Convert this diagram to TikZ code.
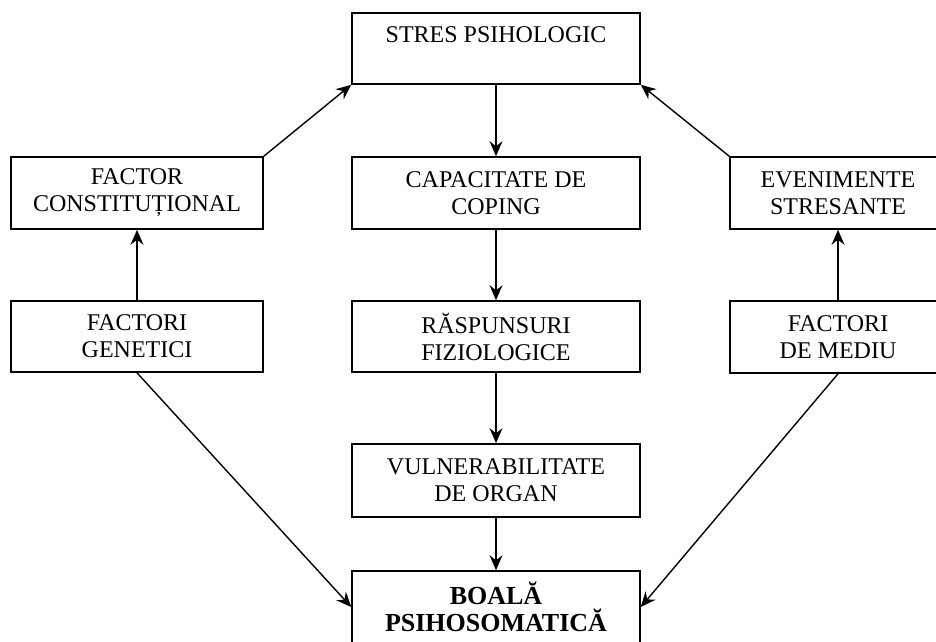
\documentclass[tikz,border=0pt]{standalone}
\usepackage{fontspec}
\setmainfont{Liberation Serif}
\usetikzlibrary{arrows.meta}
\begin{document}
\begin{tikzpicture}[x=1pt,y=-1pt,
  box/.style={draw, line width=1.6pt, align=center, inner sep=0pt,
    font=\fontsize{24}{27}\selectfont},
  wide/.style={box, minimum width=288pt, minimum height=72pt},
  side/.style={box, minimum width=252pt, minimum height=72pt},
  sider/.style={box, minimum width=216pt, minimum height=72pt},
  conn/.style={line width=1.4pt, -{Stealth[length=15pt,width=13pt,inset=5pt]}}]
\useasboundingbox (0,0) rectangle (936,641);
% centre column
\node[wide, minimum height=71pt] (stres) at (496,48.5) {STRES PSIHOLOGIC\\\phantom{X}};
\node[wide] (cap) at (496,193) {CAPACITATE DE\\COPING};
\node[wide, minimum height=71pt] (rasp) at (496,336.5) {RĂSPUNSURI\\FIZIOLOGICE};
\node[wide, minimum height=73pt] (vuln) at (496,480.5) {VULNERABILITATE\\DE ORGAN};
\node[wide, font=\fontsize{26}{27}\selectfont\bfseries] (boala) at (496,607) {BOALĂ\\PSIHOSOMATICĂ};
% left column
\node[side] (fc) at (137,193) {FACTOR\\CONSTITUȚIONAL};
\node[side, minimum height=71pt] (gen) at (137,336.5) {FACTORI\\GENETICI};
% right column
\node[sider] (ev) at (838,193) {EVENIMENTE\\STRESANTE};
\node[sider] (med) at (838,337) {FACTORI\\DE MEDIU};
% connectors
\draw[conn] (stres) -- (cap);
\draw[conn] (cap) -- (rasp);
\draw[conn] (rasp) -- (vuln);
\draw[conn] (vuln) -- (boala);
\draw[conn] (gen) -- (fc);
\draw[conn] (med) -- (ev);
\draw[conn] (fc.north east) -- (stres.south west);
\draw[conn] (ev.north west) -- (stres.south east);
\draw[conn] (gen.south) -- (boala.west);
\draw[conn] (med.south) -- (boala.east);
\end{tikzpicture}
\end{document}
